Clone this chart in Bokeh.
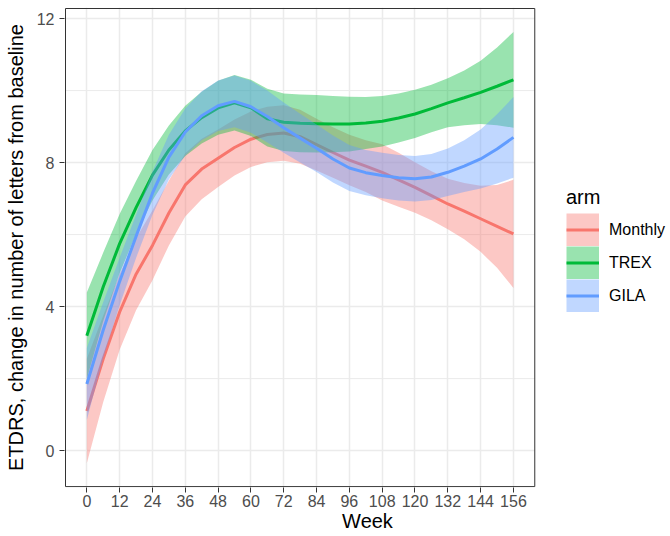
from bokeh.plotting import figure
from bokeh.models import Range1d, FixedTicker, Legend, LegendItem, BoxAnnotation
from bokeh.embed import file_html
from bokeh.resources import INLINE

# ---------------- data ----------------
weeks = [0, 6, 12, 18, 24, 30, 36, 42, 48, 54, 60, 66, 72, 78, 84, 90,
         96, 102, 108, 114, 120, 126, 132, 138, 144, 150, 156]

monthly_fit = [1.10, 2.55, 3.85, 4.90, 5.70, 6.60, 7.38, 7.82, 8.12, 8.42, 8.65, 8.78, 8.82, 8.72,
               8.50, 8.28, 8.07, 7.90, 7.73, 7.52, 7.31, 7.08, 6.85, 6.65, 6.44, 6.23, 6.02]
monthly_lo = [-0.35, 1.35, 2.80, 3.90, 4.73, 5.70, 6.50, 6.98, 7.32, 7.64, 7.88, 8.01, 8.05, 7.97,
              7.78, 7.58, 7.37, 7.18, 6.95, 6.77, 6.61, 6.40, 6.15, 5.87, 5.52, 5.08, 4.52]
monthly_hi = [2.55, 3.75, 4.90, 5.90, 6.67, 7.50, 8.26, 8.66, 8.92, 9.20, 9.42, 9.55, 9.59, 9.47,
              9.22, 8.98, 8.77, 8.62, 8.51, 8.27, 8.01, 7.76, 7.55, 7.43, 7.36, 7.38, 7.52]

trex_fit = [3.19, 4.55, 5.75, 6.75, 7.65, 8.35, 8.88, 9.25, 9.52, 9.66, 9.52, 9.22, 9.12, 9.09,
            9.08, 9.07, 9.07, 9.10, 9.15, 9.24, 9.35, 9.50, 9.66, 9.80, 9.95, 10.12, 10.30]
trex_lo = [1.99, 3.60, 4.93, 6.01, 6.95, 7.67, 8.18, 8.53, 8.77, 8.89, 8.74, 8.45, 8.32, 8.29,
           8.28, 8.29, 8.31, 8.38, 8.45, 8.56, 8.68, 8.84, 8.98, 9.04, 9.07, 9.04, 8.97]
trex_hi = [4.39, 5.50, 6.57, 7.49, 8.35, 9.03, 9.58, 9.97, 10.27, 10.43, 10.30, 10.05, 9.92, 9.89,
           9.88, 9.85, 9.83, 9.82, 9.85, 9.92, 10.02, 10.16, 10.34, 10.56, 10.83, 11.20, 11.63]

gila_fit = [1.85, 3.35, 4.70, 5.95, 7.15, 8.15, 8.85, 9.30, 9.58, 9.70, 9.55, 9.28, 8.97, 8.68,
            8.40, 8.10, 7.85, 7.72, 7.64, 7.58, 7.55, 7.60, 7.73, 7.90, 8.10, 8.38, 8.70]
gila_lo = [0.85, 2.57, 4.04, 5.35, 6.55, 7.53, 8.20, 8.62, 8.88, 8.98, 8.83, 8.56, 8.27, 8.00,
           7.74, 7.45, 7.21, 7.09, 7.01, 6.95, 6.92, 6.96, 7.07, 7.18, 7.28, 7.42, 7.58]
gila_hi = [2.85, 4.13, 5.36, 6.55, 7.75, 8.77, 9.50, 9.98, 10.28, 10.42, 10.27, 10.00, 9.67, 9.36,
           9.06, 8.75, 8.49, 8.35, 8.27, 8.21, 8.18, 8.24, 8.39, 8.62, 8.92, 9.34, 9.82]

arms = ["Monthly", "TREX", "GILA"]
arm_colors = ["#F8766D", "#00BA38", "#619CFF"]
x_ticks = [0, 12, 24, 36, 48, 60, 72, 84, 96, 108, 120, 132, 144, 156]
y_ticks = [0, 4, 8, 12]
y_minor = [2, 6, 10]

# panel (data) limits, as ggplot expands them
X_LO, X_HI = -7.8, 163.8
Y_LO, Y_HI = -1.0, 12.28

FONT = "Liberation Sans"
GRID = "#EBEBEB"
W, H = 670, 536
LEFT, TOP, BOTTOM = 64, 7, 49
NAN = float("nan")

# The frame is wider than the panel so that the legend can sit inside it;
# the panel itself is bounded by a drawn border.
p = figure(width=W, height=H, output_backend="svg", toolbar_location=None,
           x_range=Range1d(-8.166, 213.43), y_range=Range1d(-1.025, 12.308),
           min_border_left=LEFT, min_border_right=0, min_border_top=TOP,
           min_border_bottom=BOTTOM)
p.background_fill_color = "white"
p.border_fill_color = "white"
p.outline_line_color = None

# horizontal grid lines, limited to the panel width
p.segment(x0=[X_LO] * len(y_minor), x1=[X_HI] * len(y_minor), y0=y_minor, y1=y_minor,
          line_color=GRID, line_width=1)
p.segment(x0=[X_LO] * len(y_ticks), x1=[X_HI] * len(y_ticks), y0=y_ticks, y1=y_ticks,
          line_color=GRID, line_width=1.5)

series = [(monthly_fit, monthly_lo, monthly_hi),
          (trex_fit, trex_lo, trex_hi),
          (gila_fit, gila_lo, gila_hi)]
items = []
for (fit, lo, hi), col, name in zip(series, arm_colors, arms):
    p.varea(x=weeks, y1=lo, y2=hi, fill_color=col, fill_alpha=0.4)
    ln = p.line(x=weeks, y=fit, line_color=col, line_width=3)
    # non-drawing renderer (NaN) whose legend glyph is a full-size filled key
    key = p.line(x=[NAN], y=[NAN], line_color=col, line_alpha=0.4, line_width=33)
    items.append(LegendItem(label=name, renderers=[key, ln]))

p.add_layout(BoxAnnotation(left=X_LO, right=X_HI, bottom=Y_LO, top=Y_HI,
                           fill_alpha=0, line_color="#333333", line_alpha=1.0,
                           line_width=1))

p.xaxis.ticker = FixedTicker(ticks=x_ticks)
p.yaxis.ticker = FixedTicker(ticks=y_ticks)
p.xaxis.bounds = (X_LO, X_HI)
p.xgrid.ticker = FixedTicker(ticks=x_ticks)
p.xgrid.grid_line_color = GRID
p.xgrid.grid_line_width = 1.5
p.ygrid.visible = False

p.axis.axis_line_color = None
p.axis.minor_tick_line_color = None
p.axis.major_tick_line_color = "#333333"
p.axis.major_tick_out = 5
p.axis.major_tick_in = 0
p.axis.major_label_text_font = FONT
p.axis.major_label_text_font_size = "16px"
p.axis.major_label_text_color = "#4D4D4D"
p.xaxis.major_label_standoff = 2
p.yaxis.major_label_standoff = 5
p.axis.axis_label_text_font = FONT
p.axis.axis_label_text_font_size = "20px"
p.axis.axis_label_text_font_style = "normal"
p.axis.axis_label_text_color = "black"
p.xaxis.axis_label = "Week"
p.yaxis.axis_label = "ETDRS, change in number of letters from baseline"
p.xaxis.axis_label_standoff = 0
p.yaxis.axis_label_standoff = 7

legend = Legend(items=items, location=(502, 175),
                glyph_width=33, glyph_height=33, spacing=0, padding=0, margin=0,
                label_standoff=10, label_height=33,
                label_text_font=FONT, label_text_font_size="16px", label_text_color="black",
                title="arm", title_text_font=FONT, title_text_font_size="20px",
                title_text_font_style="normal", title_text_color="black", title_standoff=4,
                border_line_color=None, background_fill_alpha=0)
p.add_layout(legend)

open("out.html", "w").write(file_html(p, INLINE))
